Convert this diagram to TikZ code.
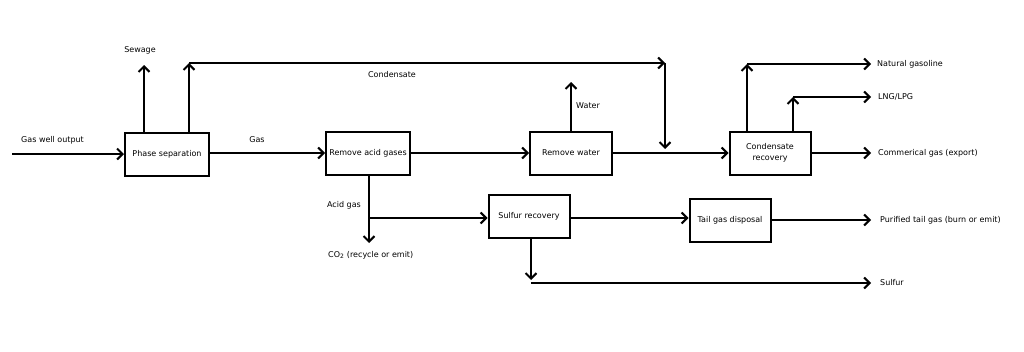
\documentclass[tikz,border=0pt]{standalone}
\usepackage{fontspec}
\setmainfont{DejaVu Sans}
\usetikzlibrary{arrows.meta}
\begin{document}
\begin{tikzpicture}[x=1pt,y=-1pt,
  box/.style={draw,line width=2pt,rectangle,inner sep=0pt,align=center,font=\fontsize{8}{11}\selectfont},
  lbl/.style={inner sep=0pt,font=\fontsize{8}{10}\selectfont},
  arr/.style={line width=2pt,-{Straight Barb[length=5.5pt,width=11pt,line width=2pt]}}]
\useasboundingbox (0,0) rectangle (1024,351);
% boxes
\node[box,minimum width=84pt,minimum height=43pt] (ps) at (167,154) {Phase separation};
\node[box,minimum width=84pt,minimum height=43pt] (rag) at (368,153) {Remove acid gases};
\node[box,minimum width=82pt,minimum height=43pt] (rw) at (571,153) {Remove water};
\node[box,minimum width=81pt,minimum height=43pt] (cr) at (770,153) {Condensate\\recovery};
\node[box,minimum width=81pt,minimum height=43pt] (sr) at (529,216) {Sulfur recovery};
\node[box,minimum width=81pt,minimum height=43pt] (tgd) at (730,220) {Tail gas disposal};
% labels
\node[lbl,anchor=west] (lgwo) at (21,140) {Gas well output};
\node[lbl] (lsew) at (140,50) {Sewage};
\node[lbl] (lcond) at (392,75) {Condensate};
\node[lbl] (lgas) at (257,140) {Gas};
\node[lbl,anchor=west] (lwat) at (576,106) {Water};
\node[lbl,anchor=west] (lng) at (877,64) {Natural gasoline};
\node[lbl,anchor=west] (llng) at (878,97) {LNG/LPG};
\node[lbl,anchor=west] (lcom) at (878,153) {Commerical gas (export)};
\node[lbl] (lacid) at (344,205) {Acid gas};
\node[lbl,anchor=west] (lco2) at (328,255) {CO\textsubscript{2} (recycle or emit)};
\node[lbl,anchor=west] (lptg) at (880,220) {Purified tail gas (burn or emit)};
\node[lbl,anchor=west] (lsul) at (880,283) {Sulfur};
% coordinates
\coordinate (gwo) at (12,154);
\coordinate (sew) at (144,65);
\coordinate (c1) at (189,63);
\coordinate (c2) at (665,63);
\coordinate (c3) at (665,149);
\coordinate (wat) at (571,82);
\coordinate (ng1) at (747,64);
\coordinate (ng2) at (871,64);
\coordinate (lg1) at (793,97);
\coordinate (lg2) at (871,97);
\coordinate (com) at (871,153);
\coordinate (co2) at (369,243);
\coordinate (br) at (369,218);
\coordinate (st) at (0,218);
\coordinate (ptg) at (871,220);
\coordinate (s0) at (531,280);
\coordinate (s1) at (531,283);
\coordinate (s2) at (871,283);
% connectors
\draw[arr] (gwo) -- (ps.west |- gwo);
\draw[arr] (ps.north -| sew) -- (sew);
\draw[arr] (ps.north -| c1) -- (c1);
\draw[arr] (c1) -- (c2);
\draw[arr] (c2) -- (c3);
\draw[arr] (ps.east |- rag) -- (rag.west);
\draw[arr] (rag.east) -- (rw.west);
\draw[arr] (rw.north) -- (wat);
\draw[arr] (rw.east) -- (cr.west);
\draw[arr] (cr.north -| ng1) -- (ng1);
\draw[arr] (ng1) -- (ng2);
\draw[arr] (cr.north -| lg1) -- (lg1);
\draw[arr] (lg1) -- (lg2);
\draw[arr] (cr.east) -- (com);
\draw[arr] (rag.south -| co2) -- (co2);
\draw[arr] (br) -- (sr.west |- br);
\draw[arr] (sr.east |- st) -- (tgd.west |- st);
\draw[arr] (tgd.east |- ptg) -- (ptg);
\draw[arr] (sr.south -| s0) -- (s0);
\draw[arr] (s1) -- (s2);
\end{tikzpicture}
\end{document}
